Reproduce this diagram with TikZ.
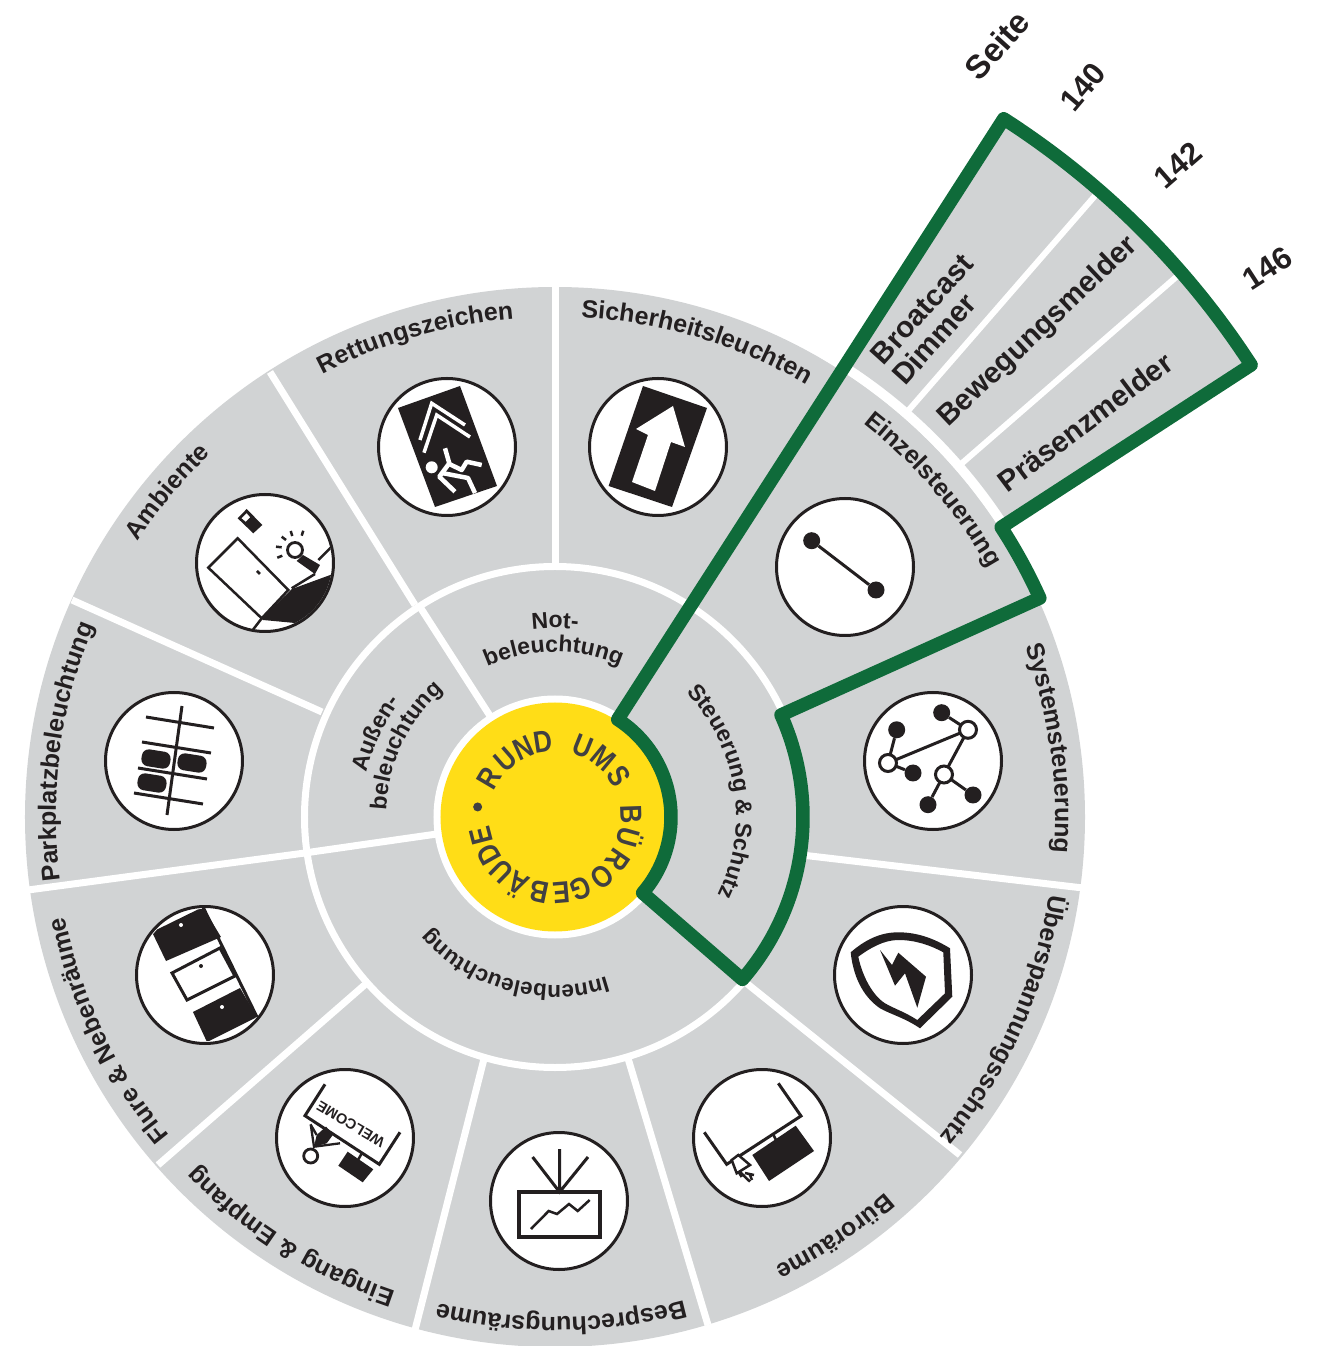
\documentclass[tikz,border=0pt]{standalone}
\usepackage{fontspec}
\usepackage{graphicx}
\setmainfont{Liberation Sans}
\usetikzlibrary{decorations.text}
\definecolor{sectorgray}{HTML}{D1D3D4}
\definecolor{leaf}{HTML}{0F6B3A}
\definecolor{sun}{HTML}{FFDD17}
\definecolor{ink}{HTML}{231F20}
\definecolor{suntext}{HTML}{414042}
\newcommand{\arclabel}[4]{%
  \pgfmathsetmacro\aS{#1+70}\pgfmathsetmacro\aE{#1-70}%
  \path[decorate,decoration={text along path,text align=center,
    text={|\fontsize{#3}{#3}\selectfont\bfseries\color{ink}|#4}}]
    (\aS:#2) arc[start angle=\aS,end angle=\aE,radius=#2];}
\tikzset{
  spoke/.style={draw=white,line width=7pt},
  badge/.style={circle,draw=ink,fill=white,line width=3pt,minimum size=137pt,inner sep=0pt},
  iconline/.style={draw=ink,line width=3pt},
  iconfill/.style={fill=ink,draw=none},
  whiteline/.style={draw=white,line width=3.5pt},
  car/.style={rectangle,rounded corners=7pt,fill=ink,minimum width=29pt,minimum height=17pt,inner sep=0pt},
  dotblack/.style={circle,fill=ink,minimum size=17pt,inner sep=0pt},
  dotopen/.style={circle,draw=ink,fill=white,line width=3pt,minimum size=17pt,inner sep=0pt},
  sidelabel/.style={font=\bfseries\fontsize{29.5}{29.5}\selectfont,text=ink,align=center,inner sep=0pt},
  pagelabel/.style={font=\bfseries\fontsize{31}{31}\selectfont,text=ink,inner sep=0pt},
  ringletter/.style={font=\bfseries\fontsize{30.5}{30.5}\selectfont,text=suntext,inner sep=0pt,anchor=base},
  px/.style={shift={(-555,817)},y=-1pt},
}
\begin{document}
\begin{tikzpicture}[x=1pt,y=1pt]
\useasboundingbox (-555,-529) rectangle (774,817);
% base discs
\fill[sectorgray] (0,0) circle (530);
\fill[sectorgray] (33:540) arc[start angle=33,end angle=57.27,radius=540] -- (57.27:830)
   arc[start angle=57.27,end angle=33,radius=830] -- cycle;
\draw[white,line width=7pt] (24.5:534) arc[start angle=24.5,end angle=60,radius=534];
% spokes
\draw[spoke] (90:250) -- (90:531);
\draw[spoke] (57.27:250) -- (57.27:531);
\draw[spoke] (24.3:250) -- (24.3:531);
\begin{scope}[px]
\draw[spoke] (806,855.5)--(1083,888);
\draw[spoke] (745,982)--(960,1155);
\draw[spoke] (627,1055)--(708,1325);
\draw[spoke] (485,1055)--(415,1330);
\draw[spoke] (368,982)--(158,1165);
\draw[spoke] (305,853)--(28,890);
\draw[spoke] (322,712)--(72,600);
\draw[spoke] (415,605)--(270,372);
\end{scope}
\foreach \a in {122.73,-171.82,-40.9,57.27}
  \draw[spoke] (\a:118) -- (\a:250);
\foreach \a in {41,49}
  \draw[white,line width=6pt] (\a:536) -- (\a:828);
\draw[white,line width=7pt] (0,0) circle (250.5);
\fill[white] (0,0) circle (121.5);
\fill[sun] (0,0) circle (114.5);

% badges
\node[badge] (n1) at (103,370) {};
\node[badge] (n2) at (-108,370) {};
\node[badge] (n3) at (-290,254) {};
\node[badge] (n4) at (-381,56) {};
\node[badge] (n5) at (-350,-158) {};
\node[badge] (n6) at (-210,-321) {};
\node[badge] (n7) at (4,-384) {};
\node[badge] (n8) at (207,-321) {};
\node[badge] (n9) at (348,-158) {};
\node[badge] (n10) at (378,56) {};
\node[badge] (n11) at (290,250) {};

\begin{scope}[px]
% Sicherheit
\fill[ink] (643,386)--(707,408)--(672,507)--(608.6,486)--cycle;
\fill[white] (673,406)--(685,447)--(671,442)--(655,491)--(632,482)--(648,435)--(636,429)--cycle;
% Rettung
\fill[ink] (398,408)--(460,386)--(497,486)--(435,507)--cycle;
\draw[whiteline,line join=miter] (420,440)--(431.7,403.3)--(465,425);
\draw[whiteline,line join=miter] (424,452.7)--(436.7,415)--(470,437);
\fill[white] (431.7,467.3) circle (6);
\draw[white,line width=4.5pt,line join=round] (445,448.3)--(449.3,463.3)--(439.3,476.7)--(455,491.7);
\draw[white,line width=4.5pt,line join=round] (442,473)--(468,478)--(475,493);
\draw[white,line width=4.5pt,line join=round] (449.3,464)--(461.7,470)--(466.7,461.7)--(481.7,465);
% Ambiente
\begin{scope}
\clip (265,563) circle (67);
\fill[ink] (262,618)--(292,589)--(333,574)--(345,590)--(320,615)--(295,623)--(263,620)--cycle;
\draw[ink,line width=2.5pt,fill=white] (237.7,538.3)--(208.3,567.7)--(261.7,618.3)--(288.3,590)--cycle;
\draw[ink,line width=2.5pt] (252,631)--(262,618);
\draw[ink,line width=2.5pt] (318.3,560)--(334,544.5);
\draw[ink,line width=2.5pt] (315,574)--(291.7,588.3);
\end{scope}
\fill[ink] (237.7,518.3)--(246.7,509)--(262.3,525)--(253.3,533.3)--cycle;
\fill[white] (241.7,518.3)--(246.7,513.3)--(250,517.3)--(245.7,521.7)--cycle;
\draw[ink,line width=2.5pt] (257,571)--(260,574);
\fill[ink] (303,555)--(320,565)--(315,574)--(296.7,561)--cycle;
\draw[ink,line width=2.8pt,fill=white] (295,550) circle (7.5);
\draw[ink,line width=2.5pt] (281.7,536.7)--(286,540) (290.7,531)--(292.3,536) (303.3,530.7)--(301.7,535.7) (276,546.7)--(281.7,547.3) (277.3,557.7)--(282.3,555.7);
% Parkplatz
\draw[iconline] (182,706)--(167,815);
\draw[iconline] (146,717)--(214,728) (142,742)--(211,753) (138,768)--(207,779) (134,793)--(203,804);
\node[car,rotate=-9] (car1) at (156,759) {};
\node[car,rotate=-9] (car2) at (192,763) {};
\node[car,rotate=-9] (car3) at (152,783) {};
% Flure
\begin{scope}
\clip (205,975) circle (66);
\fill[ink] (152,932)--(203,907)--(221,937)--(166,961)--cycle;
\fill[ink] (193,1012)--(240,988)--(257,1017)--(207,1042)--cycle;
\end{scope}
\draw[iconline] (203,907)--(257,1017);
\draw[iconline] (172,973)--(220,948)--(235,976)--(187,1000)--cycle;
\fill[white] (181,925) circle (2);
\fill[white] (222,1007) circle (2);
\fill[ink] (201,966) circle (2);
% Eingang
\draw[iconline,line join=miter] (325,1084.3)--(305,1115.7)--(379.3,1164.3)--(400,1132.3);
\node[font=\bfseries\fontsize{14.5}{14.5}\selectfont,text=ink,rotate=149.5,inner sep=0pt] (welcome) at (350.7,1124.3) {WELCOME};
\fill[ink] (347.7,1151.7)--(373.3,1169.3)--(362.7,1182.3)--(338.3,1165.7)--cycle;
\draw[ink,line width=2.5pt] (362,1153)--(358,1160);
\fill[ink] (314,1146.7)--(316.7,1135)--(326,1126.7)--(333.3,1134.3)--(326.7,1143.3)--cycle;
\draw[ink,line width=2.3pt] (310.7,1124.3)--(314,1146.7)--(340,1143.3) (310.5,1124.3)--(316.7,1135);
\draw[ink,line width=2.8pt,fill=white] (310.7,1156) circle (7);
% Bespr
\draw[ink,line width=3.5pt] (519,1192) rectangle (600,1237);
\draw[iconline] (532.6,1157)--(559.6,1192)--(588,1157) (559.6,1149)--(559.6,1192);
\draw[ink,line width=2.5pt] (531,1229)--(548.7,1211)--(557,1214)--(569,1204)--(577.7,1211)--(589.7,1200);
% Büro
\draw[iconline,line join=miter] (778.3,1083.3)--(801,1116)--(726.7,1164.3)--(704.3,1132.3);
\fill[ink] (752.3,1155)--(795.7,1125.7)--(814,1151)--(769,1181)--cycle;
\draw[ink,line width=2.5pt] (773,1134)--(776,1140);
\draw[ink,line width=2.5pt,fill=white] (731.7,1160)--(738.3,1155)--(750,1165)--(736.7,1173.3)--cycle;
\draw[ink,line width=2.5pt] (740,1172)--(750,1181.7) (745,1173)--(754,1175) (738.7,1172)--(741.7,1177) (750,1175)--(752,1180);
% Einzel
\node[dotblack] (e1) at (811.7,540.7) {};
\node[dotblack] (e2) at (876,590) {};
\draw[iconline] (e1)--(e2);
% System
\node[dotblack] (s4) at (941.7,712.7) {};
\node[dotblack] (s5) at (896.7,729.8) {};
\node[dotblack] (s6) at (913,773) {};
\node[dotblack] (s7) at (928,804.7) {};
\node[dotblack] (s8) at (973,795) {};
\coordinate (c1) at (968,729.8);
\coordinate (c2) at (888,763);
\coordinate (c3) at (944,774.5);
\draw[iconline] (s4)--(c1) (c1)--(c2) (c1)--(c3) (s5)--(c2) (c2)--(s6) (c3)--(s7) (c3)--(s8);
\node[dotopen] (s1) at (c1) {};
\node[dotopen] (s2) at (c2) {};
\node[dotopen] (s3) at (c3) {};
% Ueberspannung
\fill[ink,even odd rule]
  (850.7,952.3) .. controls (865,940) and (880,932.3) .. (898.3,932.3)
  .. controls (918,932.3) and (935,939) .. (950,948.3) -- (952.3,996.7) -- (920,1028.3)
  .. controls (905,1018) and (890,1014) .. (880,1008.3)
  .. controls (862,996) and (853,975) .. cycle
  (858.3,956.7) .. controls (870,948) and (884,940) .. (898.3,940)
  .. controls (915,940) and (930,945) .. (943.3,952.3) -- (945,993.3) -- (917.3,1020)
  .. controls (905,1012) and (895,1009) .. (885,1003.3)
  .. controls (872,995) and (862,975) .. cycle;
\fill[ink] (880,950)--(892,965)--(898.3,952.7)--(926,976.7)--(917.3,1007.7)--(905,973.3)--(895,985.7)--cycle;
\end{scope}

% green outline
\draw[leaf,line width=13.5pt,line join=round]
  (57.27:116) -- (57.27:830) arc[start angle=57.27,end angle=33,radius=830]
  -- (33:532) arc[start angle=33,end angle=24.3,radius=532]
  -- (24.3:248) arc[start angle=24.3,end angle=-40.9,radius=248]
  -- (-40.9:116) arc[start angle=-40.9,end angle=57.27,radius=116] -- cycle;

% outer ring labels
\arclabel{73.4}{500}{25}{Sicherheitsleuchten}
\arclabel{106.2}{500}{25}{Rettungszeichen}
\arclabel{140}{500}{25}{Ambiente}
\arclabel{172.4}{499}{25}{Parkplatzbeleuchtung}
\arclabel{205.5}{500}{25}{Flure {\&} Nebenräume}
\arclabel{237.8}{500}{25}{Eingang {\&} Empfang}
\arclabel{270.7}{500}{25}{Besprechungsräume}
\arclabel{303.7}{500}{25}{Büroräume}
\arclabel{335.7}{500}{25}{Überspannungsschutz}
\arclabel{7.9}{500}{25}{Systemsteuerung}
\arclabel{40.9}{500}{25}{Einzelsteuerung}
% middle ring labels
\arclabel{90}{189}{23}{Not-}
\arclabel{90.5}{165}{23}{beleuchtung}
\arclabel{155}{193}{23}{Außen-}
\arclabel{154.5}{169}{23}{beleuchtung}
\arclabel{254.8}{168}{22.5}{Innenbeleuchtung}
\arclabel{9}{181}{23}{Steuerung {\&} Schutz}

% extension labels
\begin{scope}[px]
\node[sidelabel,rotate=48] (broad) at (922,309) {Broatcast};
\node[sidelabel,rotate=48] (dim) at (934,339) {Dimmer};
\node[sidelabel,rotate=43.5] (bew) at (1038,332) {Bewegungsmelder};
\node[sidelabel,rotate=36.9] (pra) at (1085,422) {Präsenzmelder};
\node[pagelabel,rotate=48,font=\bfseries\fontsize{33}{33}\selectfont] (seite) at (997,45) {Seite};
\node[pagelabel,rotate=50] (p140) at (1083,87) {140};
\node[pagelabel,rotate=41] (p142) at (1178,165) {142};
\node[pagelabel,rotate=33] (p146) at (1267,268) {146};
\end{scope}

% centre lettering
\foreach \a/\c [count=\i] in {149.4/R,131/U,114.8/N,98.7/D,68/U,50.4/M,32.5/S,2/B,-15.6/Ü,-34.5/R,-51.6/O,-70.3/G,-85.2/E,-101.8/B,-118.7/Ä,-134.4/U,-150.6/D,-165.6/E}
  \node[ringletter,rotate=\a-90] (ltr\i) at (\a:65.5) {\scalebox{.84}[1]{\c}};
\fill[suntext] (172.6:78) circle (4.5);
\end{tikzpicture}
\end{document}
